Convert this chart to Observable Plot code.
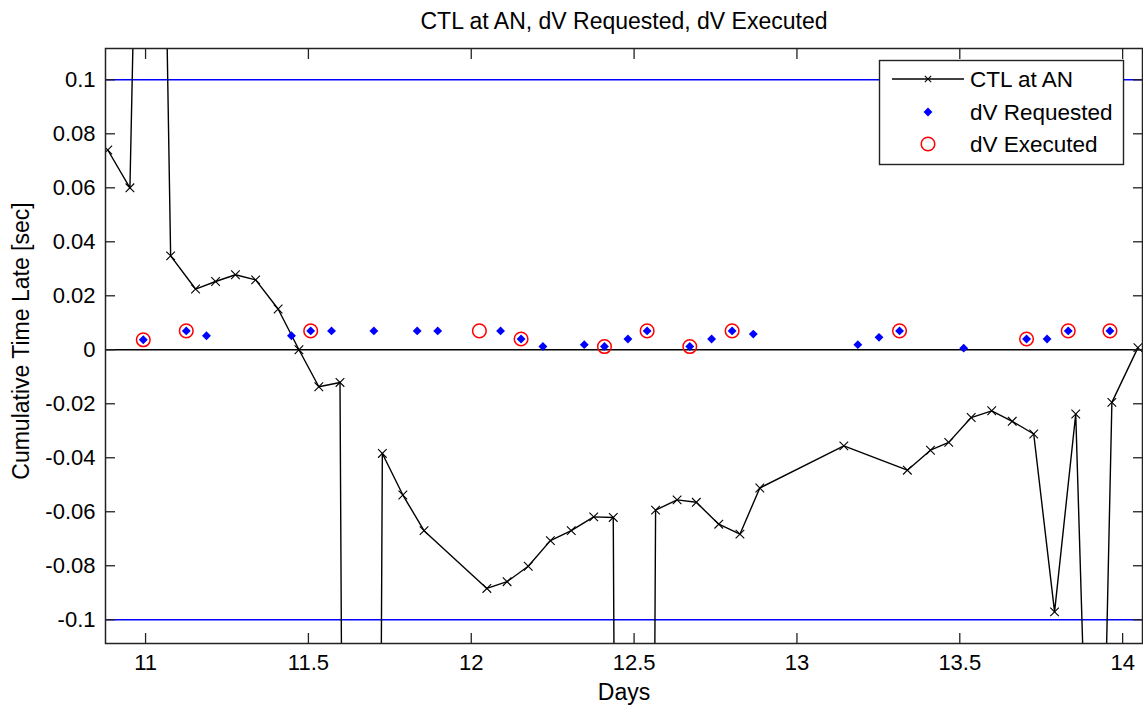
<!DOCTYPE html>
<html>
<head>
<meta charset="utf-8">
<script src="https://cdn.jsdelivr.net/npm/d3@7"></script>
<script src="https://cdn.jsdelivr.net/npm/@observablehq/plot@0.6"></script>
<style>
  html, body { margin: 0; padding: 0; background: #ffffff; }
  #chart svg { display: block; }
</style>
</head>
<body>
<div id="chart"></div>
<script>
// CTL at AN (cumulative time late) series
const ctlDays = [10.884, 10.952, 11.02, 11.077, 11.1535, 11.215, 11.276, 11.338, 11.407, 11.471, 11.532, 11.597, 11.664, 11.727, 11.790, 11.855, 12.048, 12.110, 12.175, 12.243, 12.307, 12.376, 12.436, 12.501, 12.566, 12.632, 12.691, 12.760, 12.825, 12.886, 13.144, 13.339, 13.410, 13.466, 13.535, 13.598, 13.661, 13.727, 13.791, 13.856, 13.92, 13.967, 14.047];
const ctlLate = [0.0740, 0.0600, 0.45, 0.0348, 0.0225, 0.0253, 0.0278, 0.0259, 0.0151, 0.0000, -0.0137, -0.0121, -1.5, -0.0384, -0.0538, -0.0670, -0.0884, -0.0859, -0.0802, -0.0707, -0.0670, -0.0619, -0.0621, -1.5, -0.0594, -0.0556, -0.0565, -0.0646, -0.0683, -0.0512, -0.0356, -0.0446, -0.0372, -0.0343, -0.0251, -0.0226, -0.0265, -0.0312, -0.0971, -0.0238, -0.28, -0.0195, 0.0008];

// dV Requested
const reqDays = [10.993, 11.125, 11.187, 11.448, 11.507, 11.571, 11.701, 11.834, 11.897, 12.090, 12.153, 12.220, 12.347, 12.409, 12.481, 12.540, 12.671, 12.738, 12.801, 12.866, 13.187, 13.252, 13.315, 13.512, 13.705, 13.768, 13.833, 13.961];
const reqDV = [0.0037, 0.0070, 0.0052, 0.0052, 0.0070, 0.0070, 0.0070, 0.0070, 0.0070, 0.0070, 0.0040, 0.0012, 0.0019, 0.0012, 0.0040, 0.0070, 0.0012, 0.0040, 0.0070, 0.0058, 0.0019, 0.0046, 0.0070, 0.0006, 0.0040, 0.0040, 0.0070, 0.0070];

// dV Executed
const exeDays = [10.993, 11.125, 11.507, 12.025, 12.153, 12.409, 12.540, 12.671, 12.801, 13.315, 13.705, 13.833, 13.961];
const exeDV = [0.0037, 0.0070, 0.0070, 0.0070, 0.0040, 0.0012, 0.0070, 0.0012, 0.0070, 0.0070, 0.0040, 0.0070, 0.0070];

// limits and ticks
const limitLines = [0.1, -0.1];
const zeroLine = [0];
const xTicks = [11, 11.5, 12, 12.5, 13, 13.5, 14];
const yTicks = [0.1, 0.08, 0.06, 0.04, 0.02, 0, -0.02, -0.04, -0.06, -0.08, -0.1];
const xDomain = [10.877, 14.061];
const yDomain = [-0.1088, 0.1116];

const titleText = "CTL at AN, dV Requested, dV Executed";
const xLabel = "Days";
const yLabel = "Cumulative Time Late [sec]";
const legendLabels = ["CTL at AN", "dV Requested", "dV Executed"];

const ctl = ctlDays.map((d, i) => ({day: d, late: ctlLate[i]}));
const req = reqDays.map((d, i) => ({day: d, dv: reqDV[i]}));
const exe = exeDays.map((d, i) => ({day: d, dv: exeDV[i]}));

const FS = 22;     // tick labels
const FT = 23;     // title / axis labels
const FL = 22.5;   // legend
const FONT = "'Liberation Sans', Arial, sans-serif";
const fmtY = d => String(+d.toFixed(2));
const fmtX = d => String(d);
const blank = () => "";

const svg = Plot.plot({
  width: 1143,
  height: 706,
  marginLeft: 105,
  marginRight: 1,
  marginTop: 48,
  marginBottom: 63,
  style: {background: "#ffffff", fontFamily: FONT, fontSize: FS + "px", color: "#000"},
  x: {domain: xDomain, axis: null},
  y: {domain: yDomain, axis: null},
  marks: [
    Plot.ruleY(limitLines, {stroke: "#0000ff", strokeWidth: 1.6}),
    Plot.ruleY(zeroLine, {stroke: "#000", strokeWidth: 1.6}),
    Plot.line(ctl, {x: "day", y: "late", stroke: "#000", strokeWidth: 1.4, clip: true}),
    Plot.dot(ctl, {x: "day", y: "late", symbol: "times", r: 4, stroke: "#000", strokeWidth: 1.1, clip: true}),
    Plot.dot(req, {x: "day", y: "dv", symbol: "diamond2", r: 4, fill: "#0000ff", stroke: "none"}),
    Plot.dot(exe, {x: "day", y: "dv", symbol: "circle", r: 6.8, fill: "none", stroke: "#ff0000", strokeWidth: 1.5}),
    Plot.frame({stroke: "#222", strokeWidth: 1.5}),
    Plot.axisX({anchor: "bottom", ticks: xTicks, tickSize: -10, tickFormat: blank, label: null, stroke: "#222", strokeWidth: 1.3}),
    Plot.axisX({anchor: "top", ticks: xTicks, tickSize: -10, tickFormat: blank, label: null, stroke: "#222", strokeWidth: 1.3}),
    Plot.axisY({anchor: "left", ticks: yTicks, tickSize: -10, tickFormat: blank, label: null, stroke: "#222", strokeWidth: 1.3}),
    Plot.axisY({anchor: "right", ticks: yTicks, tickSize: -10, tickFormat: blank, label: null, stroke: "#222", strokeWidth: 1.3}),
    Plot.axisX({anchor: "bottom", ticks: xTicks, tickSize: 0, tickPadding: 11, tickFormat: fmtX, label: null, fontSize: FS, fill: "#000"}),
    Plot.axisY({anchor: "left", ticks: yTicks, tickSize: 0, tickPadding: 10, tickFormat: fmtY, label: null, fontSize: FS, fill: "#000"}),
    Plot.text([titleText], {frameAnchor: "top", dy: -27, fontSize: FT, fill: "#000", lineAnchor: "middle", textAnchor: "middle"}),
    Plot.text([xLabel], {frameAnchor: "bottom", dy: 49, fontSize: FT, fill: "#000", lineAnchor: "middle", textAnchor: "middle"}),
    Plot.text([yLabel], {frameAnchor: "left", dx: -84, dy: -5, rotate: -90, fontSize: FT, fill: "#000", lineAnchor: "middle", textAnchor: "middle"})
  ]
});

// legend box (inside the axes, upper right)
const g = d3.select(svg).append("g").attr("font-family", FONT).attr("font-size", FL).attr("text-anchor", "start");
g.append("rect").attr("x", 879.5).attr("y", 60.5).attr("width", 244).attr("height", 104)
  .attr("fill", "#fff").attr("stroke", "#222").attr("stroke-width", 1.4);
const lx = 928;
const rows = [79, 112, 144];
g.append("line").attr("x1", 892).attr("x2", 964).attr("y1", rows[0]).attr("y2", rows[0]).attr("stroke", "#000").attr("stroke-width", 1.4);
g.append("path").attr("d", d3.symbol(d3.symbolTimes, Math.PI * 9)()).attr("transform", `translate(${lx},${rows[0]})`).attr("stroke", "#000").attr("stroke-width", 1.1).attr("fill", "none");
g.append("path").attr("d", d3.symbol(d3.symbolDiamond2, Math.PI * 16)()).attr("transform", `translate(${lx},${rows[1]})`).attr("fill", "#0000ff");
g.append("circle").attr("cx", lx).attr("cy", rows[2]).attr("r", 6.8).attr("fill", "none").attr("stroke", "#ff0000").attr("stroke-width", 1.5);
legendLabels.forEach((t, i) => {
  g.append("text").attr("x", 970).attr("y", rows[i]).attr("dy", "0.36em").attr("fill", "#000").attr("text-anchor", "start").text(t);
});

document.getElementById("chart").appendChild(svg);
</script>
</body>
</html>
